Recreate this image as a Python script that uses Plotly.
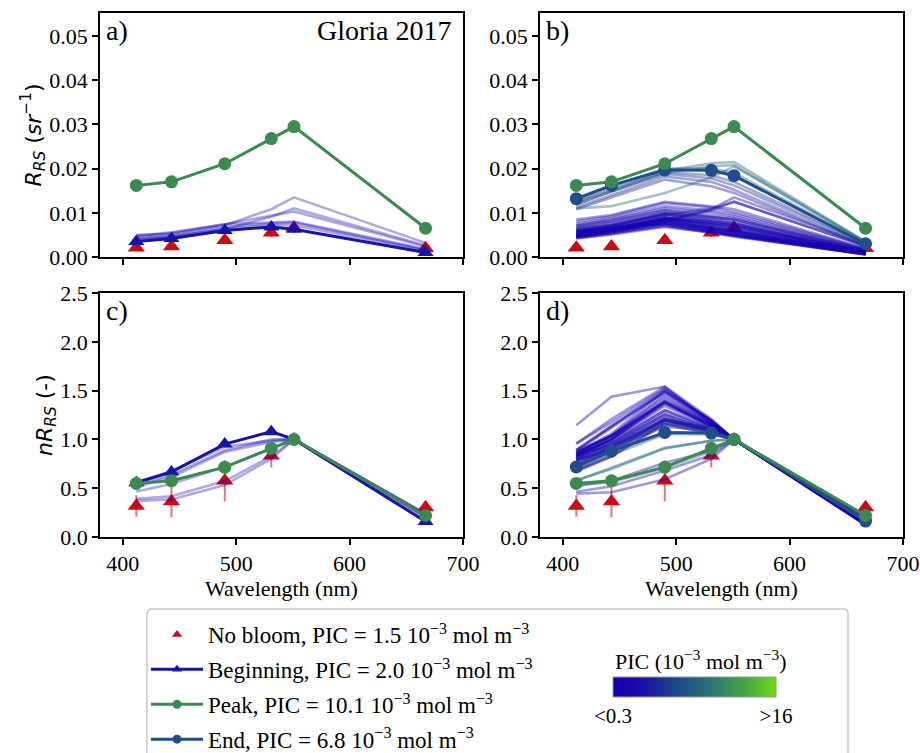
import plotly.graph_objects as go
from plotly.colors import sample_colorscale

# ---------------- data ----------------
wavelengths = [412, 443, 490, 531, 551, 667]
norm_band = 551  # nRrs = Rrs / Rrs(551)

nobloom_rrs = [0.0021, 0.0024, 0.0038, 0.0055, 0.0066, 0.0020]
nobloom_rrs_err = [0.0004, 0.0005, 0.0008, 0.0010, 0.0012, 0.0004]
nobloom_nrrs_err = [0.11, 0.16, 0.21, 0.12, 0.0, 0.07]

beginning_rrs = [0.0035, 0.0042, 0.0060, 0.0068, 0.0063, 0.0010]
peak_rrs = [0.0162, 0.0170, 0.0211, 0.0268, 0.0295, 0.0065]
end_rrs = [0.0132, 0.0162, 0.0197, 0.0196, 0.0184, 0.0030]

# Panel a/c: individual spectra around the beginning of the bloom
a_pic = [2.6, 2.3, 2.0, 1.6, 1.3, 1.1]
a_spectra = [
    [0.0050, 0.0052, 0.0072, 0.0108, 0.0135, 0.0032],
    [0.0043, 0.0046, 0.0063, 0.0091, 0.0110, 0.0026],
    [0.0048, 0.0056, 0.0074, 0.0093, 0.0103, 0.0024],
    [0.0045, 0.0054, 0.0074, 0.0079, 0.0080, 0.0018],
    [0.0040, 0.0048, 0.0068, 0.0076, 0.0078, 0.0016],
    [0.0038, 0.0046, 0.0064, 0.0072, 0.0072, 0.0014],
]

# Panel b/d: individual spectra of the whole bloom sequence
b_pic = [0.5, 0.6, 0.8, 0.4, 1.0, 0.7, 1.2, 0.9, 1.4, 1.1, 1.6, 1.3, 1.8, 2.0, 2.2,
         0.3, 0.4, 0.5, 0.6, 0.8, 0.5, 0.9, 0.3, 1.0, 1.2, 1.5, 1.7, 1.4, 1.9, 2.1, 2.4,
         0.7, 1.0, 0.6, 4.5, 5.0, 4.0, 5.5, 8.0, 8.5, 9.0, 7.5]
b_spectra = [
    [0.0045, 0.0055, 0.0078, 0.0062, 0.0052, 0.0007],
    [0.0048, 0.0058, 0.0082, 0.0066, 0.0056, 0.0008],
    [0.0050, 0.0061, 0.0085, 0.0070, 0.0060, 0.0008],
    [0.0052, 0.0063, 0.0088, 0.0073, 0.0063, 0.0009],
    [0.0055, 0.0066, 0.0090, 0.0075, 0.0066, 0.0010],
    [0.0058, 0.0070, 0.0094, 0.0079, 0.0070, 0.0010],
    [0.0060, 0.0072, 0.0096, 0.0082, 0.0074, 0.0011],
    [0.0062, 0.0074, 0.0098, 0.0085, 0.0077, 0.0012],
    [0.0065, 0.0077, 0.0100, 0.0088, 0.0080, 0.0013],
    [0.0068, 0.0080, 0.0104, 0.0092, 0.0085, 0.0014],
    [0.0070, 0.0082, 0.0106, 0.0095, 0.0088, 0.0015],
    [0.0072, 0.0085, 0.0110, 0.0100, 0.0092, 0.0016],
    [0.0075, 0.0088, 0.0115, 0.0105, 0.0097, 0.0017],
    [0.0080, 0.0092, 0.0122, 0.0112, 0.0102, 0.0018],
    [0.0085, 0.0095, 0.0125, 0.0115, 0.0108, 0.0019],
    [0.0055, 0.0069, 0.0074, 0.0056, 0.0048, 0.0007],
    [0.0046, 0.0058, 0.0074, 0.0058, 0.0048, 0.0006],
    [0.0044, 0.0054, 0.0070, 0.0055, 0.0046, 0.0006],
    [0.0043, 0.0052, 0.0072, 0.0058, 0.0050, 0.0007],
    [0.0050, 0.0060, 0.0080, 0.0066, 0.0058, 0.0008],
    [0.0047, 0.0056, 0.0077, 0.0064, 0.0056, 0.0007],
    [0.0053, 0.0062, 0.0083, 0.0068, 0.0060, 0.0009],
    [0.0042, 0.0051, 0.0068, 0.0056, 0.0049, 0.0006],
    [0.0056, 0.0065, 0.0086, 0.0074, 0.0066, 0.0010],
    [0.0060, 0.0068, 0.0090, 0.0078, 0.0072, 0.0011],
    [0.0050, 0.0062, 0.0088, 0.0082, 0.0075, 0.0012],
    [0.0058, 0.0070, 0.0098, 0.0090, 0.0085, 0.0014],
    [0.0048, 0.0060, 0.0085, 0.0077, 0.0070, 0.0011],
    [0.0060, 0.0062, 0.0080, 0.0108, 0.0135, 0.0028],
    [0.0058, 0.0065, 0.0085, 0.0105, 0.0125, 0.0025],
    [0.0065, 0.0072, 0.0095, 0.0110, 0.0125, 0.0024],
    [0.0047, 0.0060, 0.0080, 0.0063, 0.0053, 0.0007],
    [0.0052, 0.0066, 0.0086, 0.0068, 0.0058, 0.0008],
    [0.0045, 0.0057, 0.0076, 0.0061, 0.0051, 0.0007],
    [0.0112, 0.0140, 0.0182, 0.0170, 0.0152, 0.0025],
    [0.0118, 0.0148, 0.0188, 0.0178, 0.0162, 0.0028],
    [0.0108, 0.0135, 0.0175, 0.0160, 0.0145, 0.0024],
    [0.0125, 0.0155, 0.0192, 0.0185, 0.0170, 0.0030],
    [0.0125, 0.0150, 0.0195, 0.0212, 0.0215, 0.0035],
    [0.0120, 0.0148, 0.0190, 0.0205, 0.0208, 0.0033],
    [0.0110, 0.0115, 0.0145, 0.0180, 0.0205, 0.0035],
    [0.0130, 0.0160, 0.0200, 0.0200, 0.0190, 0.0032],
]

pic_min, pic_max = 0.3, 16.0
x_ticks = [400, 500, 600, 700]
rrs_ticks = [0.00, 0.01, 0.02, 0.03, 0.04, 0.05]
nrrs_ticks = [0.0, 0.5, 1.0, 1.5, 2.0, 2.5]
cbar_ticktext = ["<0.3", ">16"]
cbar_title = "PIC (10<sup>−3</sup> mol m<sup>−3</sup>)"

legend_labels = [
    "No bloom, PIC = 1.5 10<sup>−3</sup> mol m<sup>−3</sup>",
    "Beginning, PIC = 2.0 10<sup>−3</sup> mol m<sup>−3</sup>",
    "Peak, PIC = 10.1 10<sup>−3</sup> mol m<sup>−3</sup>",
    "End, PIC = 6.8 10<sup>−3</sup> mol m<sup>−3</sup>",
]

# ---------------- style ----------------
W, H = 920, 753
SERIF = "Liberation Serif"
MATH = "DejaVu Sans"
RED = "#cc0a14"
ERR = "rgba(225,70,70,0.75)"
BEG = "#1414a8"
PEAK = "#3a8a52"
END = "#1f4e8a"
CSCALE = [[0.0, "#1400b4"], [0.15, "#1a0aa8"], [0.4, "#1f4a8a"],
          [0.65, "#2f7f6a"], [0.85, "#4fb03a"], [1.0, "#72d818"]]


def norm(spec):
    i = wavelengths.index(norm_band)
    return [v / spec[i] for v in spec]


def pic_color(p, alpha):
    t = min(max((p - pic_min) / (pic_max - pic_min), 0), 1)
    c = sample_colorscale(CSCALE, [t], colortype="tuple")[0]
    r, g, b = [int(round(v * 255)) if v <= 1 else int(v) for v in c]
    return f"rgba({r},{g},{b},{alpha})"


def px_x(p):
    return p / W


def px_y(p):
    return 1 - p / H


fig = go.Figure()

panels = {
    "a": ("x", "y", False),
    "b": ("x2", "y2", False),
    "c": ("x3", "y3", True),
    "d": ("x4", "y4", True),
}


def add_nobloom(xa, ya, normed):
    ys = norm(nobloom_rrs) if normed else nobloom_rrs
    err = nobloom_nrrs_err if normed else nobloom_rrs_err
    fig.add_trace(go.Scatter(
        x=wavelengths, y=ys, mode="markers", xaxis=xa, yaxis=ya, showlegend=False,
        marker=dict(symbol="triangle-up", size=15, color=RED, line=dict(width=0)),
        error_y=dict(type="data", array=err, color=ERR, thickness=2, width=0)))


def add_thin(xa, ya, spectra, pics, normed, alpha):
    for s, p in zip(spectra, pics):
        fig.add_trace(go.Scatter(
            x=wavelengths, y=norm(s) if normed else s, mode="lines",
            xaxis=xa, yaxis=ya, showlegend=False, hoverinfo="skip",
            line=dict(color=pic_color(p, alpha), width=2.6)))


def add_main(xa, ya, spec, normed, color, symbol, size):
    fig.add_trace(go.Scatter(
        x=wavelengths, y=norm(spec) if normed else spec, mode="lines+markers",
        xaxis=xa, yaxis=ya, showlegend=False,
        line=dict(color=color, width=3),
        marker=dict(symbol=symbol, size=size, color=color, line=dict(width=0))))


for key in ["a", "c"]:
    xa, ya, normed = panels[key]
    add_nobloom(xa, ya, normed)
    add_thin(xa, ya, a_spectra, a_pic, normed, 0.35)
    add_main(xa, ya, beginning_rrs, normed, BEG, "triangle-up", 14)
    add_main(xa, ya, peak_rrs, normed, PEAK, "circle", 13)

for key in ["b", "d"]:
    xa, ya, normed = panels[key]
    add_nobloom(xa, ya, normed)
    add_thin(xa, ya, b_spectra, b_pic, normed, 0.42)
    add_main(xa, ya, end_rrs, normed, END, "circle", 13)
    add_main(xa, ya, peak_rrs, normed, PEAK, "circle", 13)

# legend-only traces
leg_specs = [
    ("markers", RED, "triangle-up"),
    ("lines+markers", BEG, "triangle-up"),
    ("lines+markers", PEAK, "circle"),
    ("lines+markers", END, "circle"),
]
for i, (lab, (mode, col, sym)) in enumerate(zip(legend_labels, leg_specs)):
    fig.add_trace(go.Scatter(
        x=[None], y=[None], mode=mode, name=lab, legendgroup=f"g{i}",
        xaxis="x", yaxis="y",
        line=dict(color=col, width=3), marker=dict(symbol=sym, size=9, color=col)))

# colorbar carrier
fig.add_trace(go.Scatter(
    x=[None], y=[None], mode="markers", xaxis="x", yaxis="y", showlegend=False,
    marker=dict(color=[pic_min], cmin=pic_min, cmax=pic_max, colorscale=CSCALE,
                showscale=True,
                colorbar=dict(
                    orientation="h", x=px_x(694.5), xanchor="center",
                    y=px_y(677), yanchor="top",
                    len=163, lenmode="pixels", thickness=20, thicknessmode="pixels",
                    xpad=0, ypad=0, outlinewidth=1, outlinecolor="#9a9a9a",
                    tickvals=[pic_min, pic_max], ticktext=cbar_ticktext, ticks="",
                    tickfont=dict(family=SERIF, size=21, color="black")))))

# ---------------- axes ----------------
dom_x_left = [px_x(100), px_x(463)]
dom_x_right = [px_x(540), px_x(903)]
dom_y_top = [px_y(257), px_y(13)]
dom_y_bot = [px_y(537), px_y(293)]

base = dict(showline=True, linecolor="black", linewidth=1.5, mirror=True,
            ticks="outside", ticklen=6, tickwidth=1.5, tickcolor="black",
            showgrid=False, zeroline=False, automargin=False,
            tickfont=dict(family=SERIF, size=22, color="black"))

xcommon = dict(base, range=[380, 700], tickvals=x_ticks)
ycommon_r = dict(base, range=[0, 0.0552], tickvals=rrs_ticks, tickformat=".2f")
ycommon_n = dict(base, range=[0, 2.5], tickvals=nrrs_ticks, tickformat=".1f")

xtitle = dict(text="Wavelength (nm)", font=dict(family=SERIF, size=22, color="black"), standoff=4)

fig.update_layout(
    width=W, height=H, margin=dict(l=0, r=0, t=0, b=0, autoexpand=False),
    paper_bgcolor="white", plot_bgcolor="white",
    font=dict(family=SERIF, color="black"),
    xaxis=dict(xcommon, domain=dom_x_left, anchor="y", showticklabels=False),
    yaxis=dict(ycommon_r, domain=dom_y_top, anchor="x",
               title=dict(text="<i>R</i><sub><i>RS</i></sub> (<i>sr</i><sup>−1</sup>)",
                          font=dict(family=MATH, size=22, color="black"), standoff=2)),
    xaxis2=dict(xcommon, domain=dom_x_right, anchor="y2", showticklabels=False),
    yaxis2=dict(ycommon_r, domain=dom_y_top, anchor="x2"),
    xaxis3=dict(xcommon, domain=dom_x_left, anchor="y3", title=xtitle),
    yaxis3=dict(ycommon_n, domain=dom_y_bot, anchor="x3",
                title=dict(text="<i>nR</i><sub><i>RS</i></sub> (-)",
                           font=dict(family=MATH, size=22, color="black"), standoff=2)),
    xaxis4=dict(xcommon, domain=dom_x_right, anchor="y4", title=xtitle),
    yaxis4=dict(ycommon_n, domain=dom_y_bot, anchor="x4"),
    legend=dict(x=px_x(146), y=px_y(613), xanchor="left", yanchor="top",
                bgcolor="rgba(0,0,0,0)", borderwidth=0, itemwidth=52,
                tracegroupgap=2, traceorder="grouped",
                font=dict(family=SERIF, size=23, color="black")),
    showlegend=True,
)

# legend frame
r = 5
x0, x1, y0, y1 = 147, 848, 609, 770
path = (f"M {px_x(x0 + r)},{px_y(y0)} L {px_x(x1 - r)},{px_y(y0)} "
        f"Q {px_x(x1)},{px_y(y0)} {px_x(x1)},{px_y(y0 + r)} "
        f"L {px_x(x1)},{px_y(y1)} L {px_x(x0)},{px_y(y1)} "
        f"L {px_x(x0)},{px_y(y0 + r)} Q {px_x(x0)},{px_y(y0)} {px_x(x0 + r)},{px_y(y0)} Z")
fig.add_shape(type="path", path=path, xref="paper", yref="paper",
              line=dict(color="#c8c8c8", width=1.5), fillcolor="rgba(255,255,255,0)", layer="below")

# colorbar title
fig.add_annotation(text=cbar_title, xref="paper", yref="paper",
                   x=px_x(701), y=px_y(676), xanchor="center", yanchor="bottom",
                   showarrow=False, font=dict(family=SERIF, size=22, color="black"))

# panel labels
for key, (xa, ya, _) in panels.items():
    fig.add_annotation(text=f"{key})", xref=f"{xa} domain", yref=f"{ya} domain",
                       x=0.012, y=1.0, xanchor="left", yanchor="top", showarrow=False,
                       font=dict(family=SERIF, size=28, color="black"))
fig.add_annotation(text="Gloria 2017", xref="x domain", yref="y domain",
                   x=0.975, y=1.0, xanchor="right", yanchor="top", showarrow=False,
                   font=dict(family=SERIF, size=28, color="black"))

fig.write_html("out.html")
